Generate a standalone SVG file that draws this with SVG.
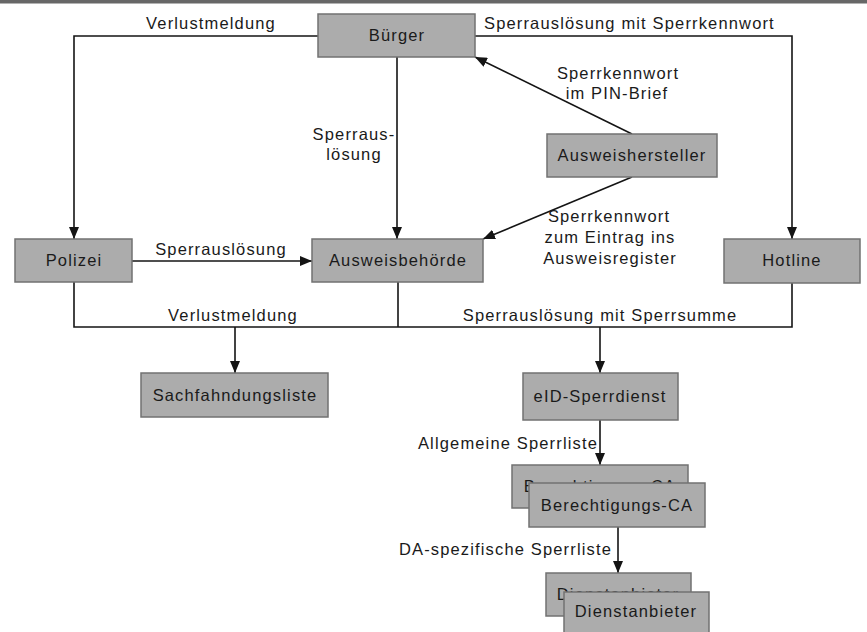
<svg xmlns="http://www.w3.org/2000/svg" width="867" height="632" viewBox="0 0 867 632">
<style>
text{font-family:"Liberation Sans",Arial,sans-serif;font-size:16.5px;letter-spacing:1.15px;fill:#1a1a1a}
.c{text-anchor:middle}
.e{text-anchor:end}
.box{fill:#acacac;stroke:#727272;stroke-width:1.5}
.ln{fill:none;stroke:#141414;stroke-width:1.6}
</style>
<defs>
<marker id="ah" markerUnits="userSpaceOnUse" markerWidth="12" markerHeight="10" refX="12" refY="5" orient="auto">
<path d="M0,0 L12,5 L0,10 Z" fill="#141414"/>
</marker>
</defs>
<rect x="0" y="0" width="867" height="3.5" fill="#676767"/>

<g id="connectors">
<polyline class="ln" points="318,36 74,36 74,239" marker-end="url(#ah)"/>
<polyline class="ln" points="475,36 792,36 792,239" marker-end="url(#ah)"/>
<line class="ln" x1="397" y1="57" x2="397" y2="239" marker-end="url(#ah)"/>
<line class="ln" x1="632" y1="134" x2="475" y2="57" marker-end="url(#ah)"/>
<line class="ln" x1="632" y1="177" x2="483" y2="239" marker-end="url(#ah)"/>
<line class="ln" x1="132" y1="261" x2="312" y2="261" marker-end="url(#ah)"/>
<polyline class="ln" points="74,282 74,327 792,327 792,283"/>
<line class="ln" x1="398" y1="282" x2="398" y2="327"/>
<line class="ln" x1="235" y1="327" x2="235" y2="373" marker-end="url(#ah)"/>
<line class="ln" x1="600" y1="327" x2="600" y2="373" marker-end="url(#ah)"/>
<line class="ln" x1="600" y1="420" x2="600" y2="465" marker-end="url(#ah)"/>
<line class="ln" x1="618" y1="527" x2="618" y2="573" marker-end="url(#ah)"/>
<text class="c" x="211" y="29">Verlustmeldung</text>
<text x="484" y="29">Sperrauslösung mit Sperrkennwort</text>
<text class="c" x="354" y="140">Sperraus-</text>
<text class="c" x="354" y="160">lösung</text>
<text class="c" x="618" y="79">Sperrkennwort</text>
<text class="c" x="617" y="99">im PIN-Brief</text>
<text class="c" x="609" y="222">Sperrkennwort</text>
<text class="c" x="610" y="243">zum Eintrag ins</text>
<text class="c" x="610" y="264">Ausweisregister</text>
<text class="c" x="221" y="255">Sperrauslösung</text>
<text class="c" x="233" y="321">Verlustmeldung</text>
<text class="c" x="600" y="321">Sperrauslösung mit Sperrsumme</text>
<text class="e" x="598" y="449">Allgemeine Sperrliste</text>
<text class="e" x="612" y="555">DA-spezifische Sperrliste</text>
</g>

<g id="buerger"><rect class="box" x="318" y="14" width="157" height="43"/><text class="c" x="397" y="41">Bürger</text></g>
<g id="ausweishersteller"><rect class="box" x="547" y="134" width="170" height="43"/><text class="c" x="632" y="161">Ausweishersteller</text></g>
<g id="polizei"><rect class="box" x="15" y="239" width="117" height="43"/><text class="c" x="74" y="266">Polizei</text></g>
<g id="ausweisbehoerde"><rect class="box" x="312" y="239" width="171" height="43"/><text class="c" x="398" y="266">Ausweisbehörde</text></g>
<g id="hotline"><rect class="box" x="724" y="239" width="136" height="44"/><text class="c" x="792" y="266">Hotline</text></g>
<g id="sachfahndungsliste"><rect class="box" x="141" y="373" width="187" height="44"/><text class="c" x="235" y="401">Sachfahndungsliste</text></g>
<g id="eid-sperrdienst"><rect class="box" x="523" y="373" width="155" height="47"/><text class="c" x="600" y="402">eID-Sperrdienst</text></g>
<g id="berechtigungs-ca">
<rect class="box" x="512" y="465" width="176" height="43"/><text class="c" x="600" y="492">Berechtigungs-CA</text>
<rect class="box" x="529" y="483" width="176" height="44"/><text class="c" x="617" y="511">Berechtigungs-CA</text>
</g>
<g id="dienstanbieter">
<rect class="box" x="546" y="573" width="145" height="43"/><text class="c" x="618" y="600">Dienstanbieter</text>
<rect class="box" x="564" y="592" width="145" height="44"/><text class="c" x="636" y="617">Dienstanbieter</text>
</g>
</svg>
